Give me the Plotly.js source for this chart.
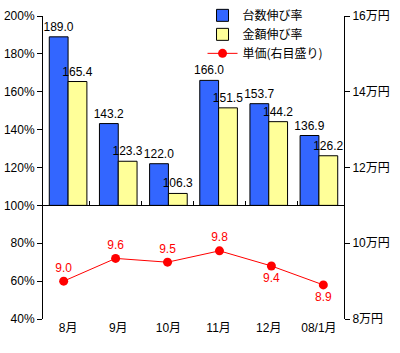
<!DOCTYPE html>
<html><head><meta charset="utf-8">
<script src="https://cdn.plot.ly/plotly-3.0.1.min.js"></script>
<style>body{margin:0;background:#fff}#c{width:400px;height:353px}</style>
</head><body><div id="c"></div>
<script>
const months = ['8月','9月','10月','11月','12月','08/1月'];
const unitGrowth = [189.0, 143.2, 122.0, 166.0, 153.7, 136.9];
const amountGrowth = [165.4, 123.3, 106.3, 151.5, 144.2, 126.2];
const unitPrice = [9.0, 9.6, 9.5, 9.8, 9.4, 8.9];
const priceLabelPos = ['top center','top center','top center','top center','bottom center','bottom center'];

const F = 'Liberation Sans, Arial, Noto Sans CJK JP, sans-serif';
const base = 100;

const traces = [
  {type:'bar', name:'台数伸び率', x:months, y:unitGrowth.map(v=>v-base), base:base,
   marker:{color:'#3366FF', line:{color:'#000', width:1}},
   text:unitGrowth.map(v=>v.toFixed(1)), textposition:'outside', cliponaxis:false, constraintext:'none',
   textfont:{family:F, size:12, color:'#000'}},
  {type:'bar', name:'金額伸び率', x:months, y:amountGrowth.map(v=>v-base), base:base,
   marker:{color:'#FFFF99', line:{color:'#000', width:1}},
   text:amountGrowth.map(v=>v.toFixed(1)), textposition:'outside', cliponaxis:false, constraintext:'none',
   textfont:{family:F, size:12, color:'#000'}},
  {type:'scatter', mode:'lines+markers+text', name:'単価(右目盛り)', x:months, y:unitPrice,
   xaxis:'x2', yaxis:'y2',
   line:{color:'#FF0000', width:1}, marker:{color:'#FF0000', size:9},
   text:unitPrice.map(v=>v.toFixed(1)), textposition:priceLabelPos, cliponaxis:false,
   textfont:{family:F, size:12, color:'#FF0000'}}
];

const layout = {
  width:400, height:353,
  margin:{l:43, r:56, t:16, b:34, autoexpand:false},
  paper_bgcolor:'#fff', plot_bgcolor:'#fff',
  font:{family:F, size:12, color:'#000'},
  barmode:'group', bargap:0.25, bargroupgap:0,
  showlegend:true,
  legend:{x:0.53, y:1.05, xanchor:'left', yanchor:'top', bgcolor:'rgba(0,0,0,0)',
          font:{family:'Noto Sans CJK JP, sans-serif', size:12}, tracegroupgap:0},
  xaxis:{type:'category', showline:false, ticks:'', showgrid:false, zeroline:false,
         tickfont:{family:F, size:12}, automargin:false},
  xaxis2:{type:'category', overlaying:'x', anchor:'free', position:0.375,
          showline:true, linecolor:'#000', linewidth:1, ticks:'inside', ticklen:4,
          tickcolor:'#000', tickson:'boundaries', showticklabels:false, showgrid:false, zeroline:false},
  yaxis:{range:[40,200], dtick:20, ticksuffix:'%', showline:true, linecolor:'#000', linewidth:1,
         ticks:'outside', ticklen:5, tickcolor:'#000', showgrid:false, zeroline:false,
         tickfont:{family:F, size:12}, automargin:false},
  yaxis2:{range:[8,16], dtick:2, ticksuffix:'万円', overlaying:'y', side:'right', anchor:'x',
          showline:true, linecolor:'#000', linewidth:1, ticks:'outside', ticklen:5, tickcolor:'#000',
          showgrid:false, zeroline:false, tickfont:{family:F, size:12}, automargin:false}
};

Plotly.newPlot('c', traces, layout, {displayModeBar:false, staticPlot:true});
</script></body></html>
